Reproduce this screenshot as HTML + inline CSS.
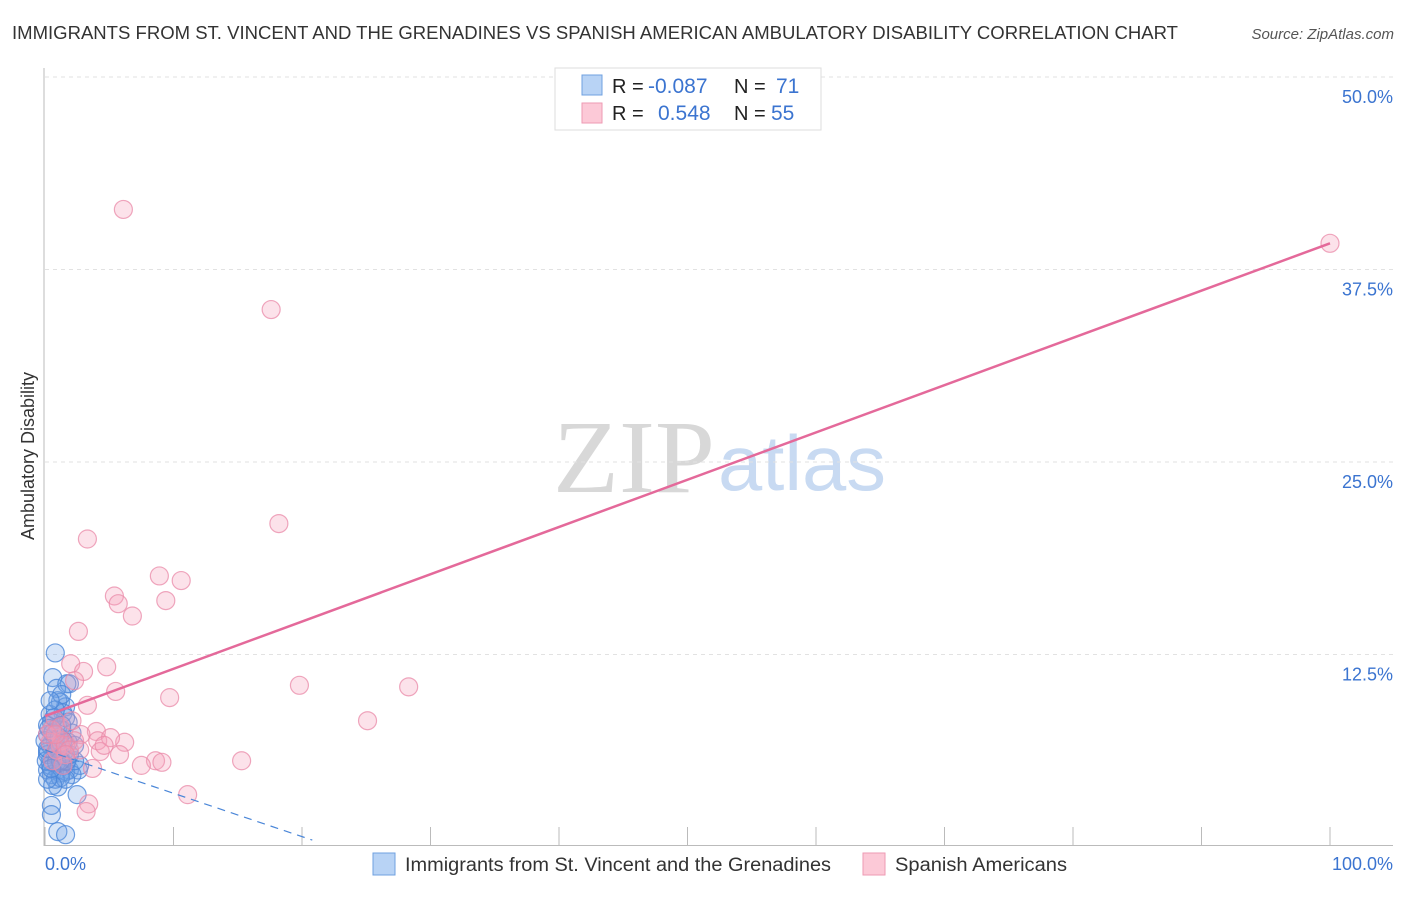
<!DOCTYPE html>
<html><head><meta charset="utf-8"><style>
body{margin:0;background:#fff;font-family:"Liberation Sans",sans-serif}
svg text{font-family:"Liberation Sans",sans-serif}
</style></head><body>
<svg id="chart" width="1406" height="892">
<text x="12" y="39" font-size="18" fill="#333" textLength="1166" lengthAdjust="spacingAndGlyphs">IMMIGRANTS FROM ST. VINCENT AND THE GRENADINES VS SPANISH AMERICAN AMBULATORY DISABILITY CORRELATION CHART</text>
<text x="1394" y="39" font-size="15" fill="#555" font-style="italic" text-anchor="end">Source: ZipAtlas.com</text>
<text x="34" y="456" font-size="18" fill="#333" text-anchor="middle" transform="rotate(-90 34 456)">Ambulatory Disability</text>
<text x="553" y="492" font-size="104" fill="#d8d8d8" textLength="162" lengthAdjust="spacingAndGlyphs" style="font-family:'Liberation Serif',serif">ZIP</text>
<text x="718" y="490" font-size="78" fill="#c8daf2" textLength="168" lengthAdjust="spacingAndGlyphs">atlas</text>
<g id="grid"></g><g id="axes"></g><g id="marks"></g>
<g>
<rect x="555" y="68" width="266" height="62" fill="#fff" stroke="#ddd"/>
<rect x="582" y="75" width="20" height="20" fill="#b8d3f5" stroke="#6fa0e0"/>
<rect x="582" y="103" width="20" height="20" fill="#fcc9d7" stroke="#ee9ab3"/>
<text x="612" y="93" font-size="20" fill="#222">R =</text><text x="648" y="93" font-size="21" fill="#3b74d0">-0.087</text>
<text x="734" y="93" font-size="20" fill="#222">N =</text><text x="776" y="93" font-size="21" fill="#3b74d0">71</text>
<text x="612" y="120" font-size="20" fill="#222">R =</text><text x="658" y="120" font-size="21" fill="#3b74d0">0.548</text>
<text x="734" y="120" font-size="20" fill="#222">N =</text><text x="771" y="120" font-size="21" fill="#3b74d0">55</text>
</g>
<g>
<rect x="373" y="853" width="22" height="22" fill="#b8d3f5" stroke="#6fa0e0"/>
<text x="405" y="871" font-size="19" fill="#333" textLength="426" lengthAdjust="spacingAndGlyphs">Immigrants from St. Vincent and the Grenadines</text>
<rect x="863" y="853" width="22" height="22" fill="#fcc9d7" stroke="#ee9ab3"/>
<text x="895" y="871" font-size="19" fill="#333" textLength="172" lengthAdjust="spacingAndGlyphs">Spanish Americans</text>
</g>
</svg>
<script>
const yTicks=[12.5,25,37.5,50];
const yTickLabels=["12.5%","25.0%","37.5%","50.0%"];
const xTicks=[0,10,20,30,40,50,60,70,80,90,100];
const blueX=[0.8,0.6,1.9,0.9,1.7,1.2,1.6,1.4,0.4,1.8,0.5,1.0,1.3,0.2,0.8,1.2,0.4,0.2,0.8,1.3,0.4,1.6,1.9,1.0,0.2,0.5,1.6,2.6,2.7,2.1,1.2,2.5,1.0,0.5,0.5,1.0,1.6,0.2,0.4,0.8,1.0,1.3,1.6,2.1,0.2,0.6,1.0,1.5,1.8,0.1,0.9,1.2,1.6,2.3,0.0,0.2,0.3,0.7,1.1,1.4,1.7,1.9,0.6,0.2,1.2,0.8,2.3,0.4,1.3,0.9,0.5];
const blueY=[12.6,11.0,10.6,10.3,10.6,9.4,9.1,8.7,8.6,8.1,8.1,7.8,7.6,7.3,6.9,6.6,6.6,6.2,6.0,5.6,5.6,5.3,5.0,5.0,5.0,4.7,4.9,5.0,5.3,4.7,4.8,3.4,3.9,2.7,2.1,1.0,0.8,6.0,5.3,4.4,9.5,9.9,8.4,7.4,7.9,7.4,6.4,6.2,6.8,5.6,5.5,4.5,4.4,5.6,6.9,6.4,7.7,8.4,7.1,6.9,5.6,6.0,4.0,4.4,5.6,8.9,6.6,9.5,7.9,6.2,5.1];
const pinkX=[6.1,17.6,18.2,3.3,8.9,10.6,5.4,5.7,9.4,6.8,2.6,4.8,2.0,3.0,2.3,19.8,28.3,5.5,9.7,3.3,25.1,4.0,2.8,6.2,4.1,5.1,2.3,1.3,1.2,5.8,8.6,9.1,15.3,7.5,3.7,11.1,3.4,3.2,100,0.8,0.5,0.4,0.9,1.6,1.9,1.2,0.2,2.7,0.6,1.6,0.8,1.4,4.3,2.1,4.6];
const pinkY=[41.4,34.9,21.0,20.0,17.6,17.3,16.3,15.8,16.0,15.0,14.0,11.7,11.9,11.4,10.8,10.5,10.4,10.1,9.7,9.2,8.2,7.5,7.3,6.8,6.9,7.1,6.9,6.9,6.6,6.0,5.6,5.5,5.6,5.3,5.1,3.4,2.8,2.3,39.2,8.2,7.6,6.8,6.3,6.6,6.3,7.8,7.3,6.3,5.6,6.0,7.3,5.3,6.2,8.2,6.6];
const pinkTrend=[[0,8.5],[100,39.2]];
const blueTrend=[[0,6.3],[20.8,0.45]];
const X=v=>45+v*12.85, Y=v=>847-v*15.4;
const NS="http://www.w3.org/2000/svg";
function mk(p,t,a){const e=document.createElementNS(NS,t);for(const k in a)e.setAttribute(k,a[k]);p.appendChild(e);return e;}
const grid=document.getElementById('grid'),axes=document.getElementById('axes'),marks=document.getElementById('marks');
yTicks.forEach((t,i)=>{
 const l=mk(grid,'line',{x1:45,x2:1393,y1:Y(t),y2:Y(t),stroke:'#e2e2e2','stroke-dasharray':'4,4'});
 
 
 const tx=mk(axes,'text',{x:1393,y:Y(t)+26,'font-size':18,fill:'#3b74d0','text-anchor':'end'});tx.textContent=yTickLabels[i];
 
 
});
const ax=mk(axes,'line',{x1:44,x2:44,y1:68,y2:846,stroke:'#bbb'});


const bx=mk(axes,'line',{x1:44,x2:1393,y1:845.5,y2:845.5,stroke:'#bbb'});


xTicks.forEach(t=>{const l=mk(axes,'line',{x1:X(t),x2:X(t),y1:827,y2:846,stroke:'#bbb'});
 
 });
const x0=mk(axes,'text',{x:45,y:870,'font-size':18,fill:'#3b74d0'});x0.textContent='0.0%';


const x1=mk(axes,'text',{x:1393,y:870,'font-size':18,fill:'#3b74d0','text-anchor':'end'});x1.textContent='100.0%';


blueX.forEach((v,i)=>{const c=mk(marks,'circle',{cx:X(v),cy:Y(blueY[i]),r:9,fill:'rgba(110,160,230,0.28)',stroke:'rgba(74,134,216,0.8)','stroke-width':1.2});
 
 });
pinkX.forEach((v,i)=>{const c=mk(marks,'circle',{cx:X(v),cy:Y(pinkY[i]),r:9,fill:'rgba(244,160,185,0.3)',stroke:'rgba(233,138,168,0.75)','stroke-width':1.2});
 
 });
const pt=mk(marks,'line',{x1:X(pinkTrend[0][0]),y1:Y(pinkTrend[0][1]),x2:X(pinkTrend[1][0]),y2:Y(pinkTrend[1][1]),stroke:'#e4699a','stroke-width':2.5});


const bt=mk(marks,'line',{x1:X(blueTrend[0][0]),y1:Y(blueTrend[0][1]),x2:X(blueTrend[1][0]),y2:Y(blueTrend[1][1]),stroke:'#4a86d8','stroke-width':1.2,'stroke-dasharray':'8,6'});


</script>
</body></html>
